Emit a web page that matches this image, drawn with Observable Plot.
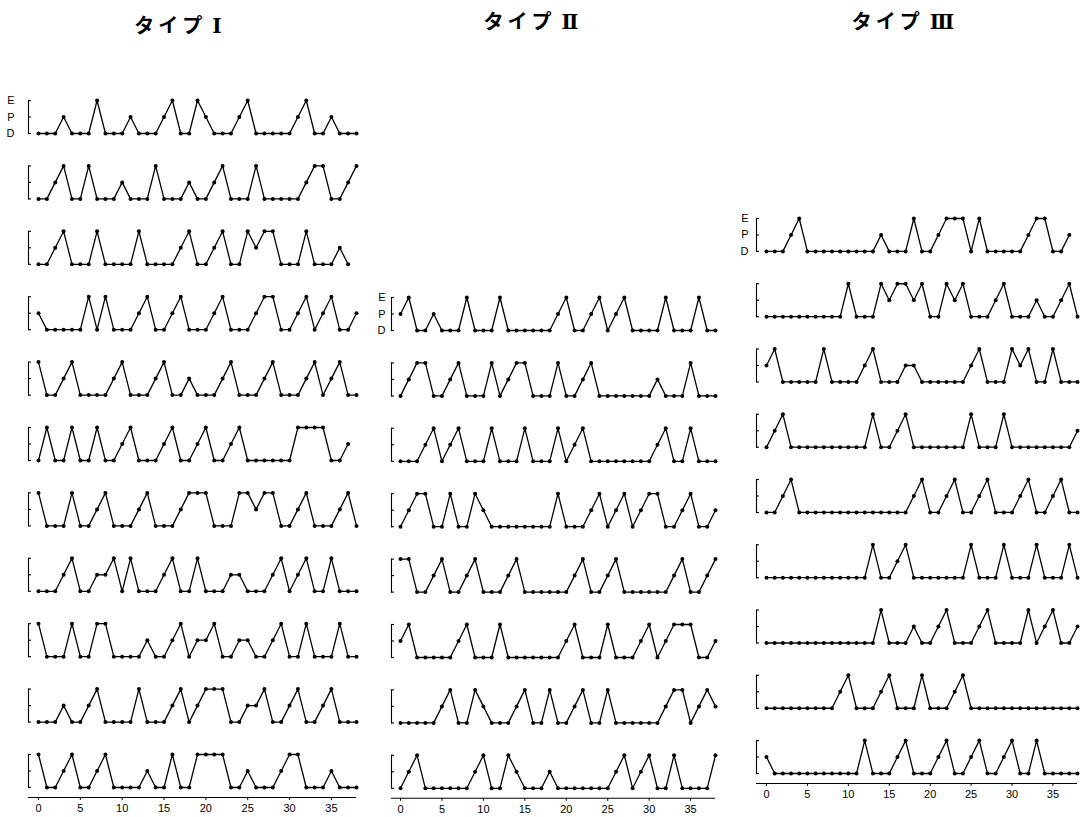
<!DOCTYPE html>
<html>
<head>
<meta charset="utf-8">
<script src="https://cdn.jsdelivr.net/npm/d3@7"></script>
<script src="https://cdn.jsdelivr.net/npm/@observablehq/plot@0.6"></script>
<style>
  body { margin: 0; background: #fff; }
  #page { position: relative; width: 1084px; height: 817px; overflow: hidden; background: #fff; }
  .title { position: absolute; transform: translateX(-50%); font-family: "Noto Sans CJK JP", sans-serif; font-weight: 700;
           font-size: 20px; letter-spacing: 4px; white-space: nowrap; line-height: 1; color: #000; }
  .title .num { font-family: "DejaVu Serif", "Liberation Serif", serif; font-weight: 700; letter-spacing: 0; margin-left: 6px; }
  .col { position: absolute; top: 0; }
</style>
</head>
<body>
<div id="page"></div>
<script>
// ---- data (D = 0, P = 1, E = 2), one array per row, x = day index ----
const levelLabels = ["D", "P", "E"];
const levelValues = [0, 1, 2];
const xTicks = [0, 5, 10, 15, 20, 25, 30, 35];
const typeTitles = ["タイプ", "タイプ", "タイプ"];
const typeNumerals = ["Ⅰ", "Ⅱ", "Ⅲ"];

const typeI = [
  [0,0,0,1,0,0,0,2,0,0, 0,1,0,0,0,1,2,0,0,2, 1,0,0,0,1,2,0,0,0,0, 0,1,2,0,0,1,0,0,0],
  [0,0,1,2,0,0,2,0,0,0, 1,0,0,0,2,0,0,0,1,0, 0,1,2,0,0,0,2,0,0,0, 0,0,1,2,2,0,0,1,2],
  [0,0,1,2,0,0,0,2,0,0, 0,0,2,0,0,0,0,1,2,0, 0,1,2,0,0,2,1,2,2,0, 0,0,2,0,0,0,1,0],
  [1,0,0,0,0,0,2,0,2,0, 0,0,1,2,0,0,1,2,0,0, 0,1,2,0,0,0,1,2,2,0, 0,1,2,0,1,2,0,0,1],
  [2,0,0,1,2,0,0,0,0,1, 2,0,0,0,1,2,0,0,1,0, 0,0,1,2,0,0,0,1,2,0, 0,0,1,2,0,1,2,0,0],
  [0,2,0,0,2,0,0,2,0,0, 1,2,0,0,0,1,2,0,0,1, 2,0,0,1,2,0,0,0,0,0, 0,2,2,2,2,0,0,1],
  [2,0,0,0,2,0,0,1,2,0, 0,0,1,2,0,0,0,1,2,2, 2,0,0,0,2,2,1,2,2,0, 0,1,2,0,0,0,1,2,0],
  [0,0,0,1,2,0,0,1,1,2, 0,2,0,0,0,1,2,0,0,2, 0,0,0,1,1,0,0,0,1,2, 0,1,2,0,0,2,0,0,0],
  [2,0,0,0,2,0,0,2,2,0, 0,0,0,1,0,0,1,2,0,1, 1,2,0,0,1,1,0,0,1,2, 0,0,2,0,0,0,2,0,0],
  [0,0,0,1,0,0,1,2,0,0, 0,0,2,0,0,0,1,2,0,1, 2,2,2,0,0,1,1,2,0,0, 1,2,0,0,1,2,0,0,0],
  [2,0,0,1,2,0,0,1,2,0, 0,0,0,1,0,0,2,0,0,2, 2,2,2,0,0,1,0,0,0,1, 2,2,0,0,0,1,0,0,0]
];

const typeII = [
  [1,2,0,0,1,0,0,0,2,0, 0,0,2,0,0,0,0,0,0,1, 2,0,0,1,2,0,1,2,0,0, 0,0,2,0,0,0,2,0,0],
  [0,1,2,2,0,0,1,2,0,0, 0,2,0,1,2,2,0,0,0,2, 0,0,1,2,0,0,0,0,0,0, 0,1,0,0,0,2,0,0,0],
  [0,0,0,1,2,0,1,2,0,0, 0,2,0,0,0,2,0,0,0,2, 0,1,2,0,0,0,0,0,0,0, 0,1,2,0,0,2,0,0,0],
  [0,1,2,2,0,0,2,0,0,2, 1,0,0,0,0,0,0,0,0,2, 0,0,0,1,2,0,1,2,0,1, 2,2,0,0,1,2,0,0,1],
  [2,2,0,0,1,2,0,0,1,2, 0,0,0,1,2,0,0,0,0,0, 0,1,2,0,0,1,2,0,0,0, 0,0,0,1,2,0,0,1,2],
  [1,2,0,0,0,0,0,1,2,0, 0,0,2,0,0,0,0,0,0,0, 1,2,0,0,0,2,0,0,0,1, 2,0,1,2,2,2,0,0,1],
  [0,0,0,0,0,1,2,0,0,2, 1,0,0,0,1,2,0,0,2,0, 0,1,2,0,0,2,0,0,0,0, 0,0,1,2,2,0,1,2,1],
  [0,1,2,0,0,0,0,0,0,1, 2,0,0,2,1,0,0,0,1,0, 0,0,0,0,0,0,1,2,0,1, 2,0,0,2,0,0,0,0,2]
];

const typeIII = [
  [0,0,0,1,2,0,0,0,0,0, 0,0,0,0,1,0,0,0,2,0, 0,1,2,2,2,0,2,0,0,0, 0,0,1,2,2,0,0,1],
  [0,0,0,0,0,0,0,0,0,0, 2,0,0,0,2,1,2,2,1,2, 0,0,2,1,2,0,0,0,1,2, 0,0,0,1,0,0,1,2,0],
  [1,2,0,0,0,0,0,2,0,0, 0,0,1,2,0,0,0,1,1,0, 0,0,0,0,0,1,2,0,0,0, 2,1,2,0,0,2,0,0,0],
  [0,1,2,0,0,0,0,0,0,0, 0,0,0,2,0,0,1,2,0,0, 0,0,0,0,0,2,0,0,0,2, 0,0,0,0,0,0,0,0,1],
  [0,0,1,2,0,0,0,0,0,0, 0,0,0,0,0,0,0,0,1,2, 0,0,1,2,0,0,1,2,0,0, 0,1,2,0,0,1,2,0,0],
  [0,0,0,0,0,0,0,0,0,0, 0,0,0,2,0,0,1,2,0,0, 0,0,0,0,0,2,0,0,0,2, 0,0,0,2,0,0,0,2,0],
  [0,0,0,0,0,0,0,0,0,0, 0,0,0,0,2,0,0,0,1,0, 0,1,2,0,0,0,1,2,0,0, 0,0,2,0,1,2,0,0,1],
  [0,0,0,0,0,0,0,0,0,1, 2,0,0,0,1,2,0,0,0,2, 0,0,0,1,2,0,0,0,0,0, 0,0,0,0,0,0,0,0,0],
  [1,0,0,0,0,0,0,0,0,0, 0,0,2,0,0,0,1,2,0,0, 0,1,2,0,0,1,2,0,0,1, 2,0,0,2,0,0,0,0,0]
];

// ---- layout of the three columns ----
const columns = [
  {series: typeI,   title: typeTitles[0], numeral: typeNumerals[0], titleX: 178, titleY: 15, left: 0,   width: 372, ml: 28, mr: 16, il: 10, top: 100, bottom: 797,   labelDx: -14},
  {series: typeII,  title: typeTitles[1], numeral: typeNumerals[1], titleX: 531, titleY: 11, left: 372, width: 356, ml: 19, mr: 13, il: 9,  top: 297, bottom: 797.8, labelDx: -6},
  {series: typeIII, title: typeTitles[2], numeral: typeNumerals[2], titleX: 903, titleY: 11, left: 728, width: 356, ml: 28, mr: 7,  il: 10, top: 218, bottom: 783,   labelDx: -8}
];

const H = 817;
const page = document.getElementById("page");

function column(o) {
  const rows = o.series.map((_, i) => i + 1);
  const data = o.series.flatMap((values, i) => values.map((v, t) => ({row: i + 1, t, v})));
  const last = rows[rows.length - 1];
  return Plot.plot({
    width: o.width,
    height: H,
    marginTop: o.top,
    marginBottom: H - o.bottom,
    marginLeft: o.ml,
    marginRight: o.mr,
    style: {background: "transparent", fontFamily: "'Liberation Sans', Arial, sans-serif", fontSize: "11px", color: "#000"},
    x: {domain: [0, 38], insetLeft: o.il},
    y: {domain: [0, 2], insetBottom: 10, insetTop: 0},
    fy: {domain: rows, paddingInner: 0.3425, paddingOuter: 0, round: false, axis: null},
    marks: [
      Plot.frame({anchor: "left", insetBottom: 10, stroke: "#000", strokeWidth: 1.1}),
      Plot.axisY({ticks: levelValues, tickSize: -3, fill: "none", label: null, strokeWidth: 1.1}),
      Plot.text(levelValues, {fy: () => 1, y: (d) => d, text: (d) => levelLabels[d], frameAnchor: "left",
                              textAnchor: "end", dx: o.labelDx, fontSize: 11, fill: "#000"}),
      Plot.ruleY([0], {fy: () => last, dy: 10, stroke: "#000", strokeWidth: 1.1}),
      Plot.axisX({ticks: xTicks, tickSize: 3, tickPadding: 4, fontSize: 11, label: null}),
      Plot.line(data, {x: "t", y: "v", fy: "row", stroke: "#000", strokeWidth: 1.3}),
      Plot.dot(data, {x: "t", y: "v", fy: "row", fill: "#000", r: 2})
    ]
  });
}

for (const o of columns) {
  const t = document.createElement("div");
  t.className = "title";
  t.textContent = o.title;
  const n = document.createElement("span");
  n.className = "num";
  n.textContent = o.numeral;
  t.appendChild(n);
  t.style.left = o.titleX + "px";
  t.style.top = o.titleY + "px";
  page.appendChild(t);

  const holder = document.createElement("div");
  holder.className = "col";
  holder.style.left = o.left + "px";
  holder.appendChild(column(o));
  page.appendChild(holder);
}
</script>
</body>
</html>
